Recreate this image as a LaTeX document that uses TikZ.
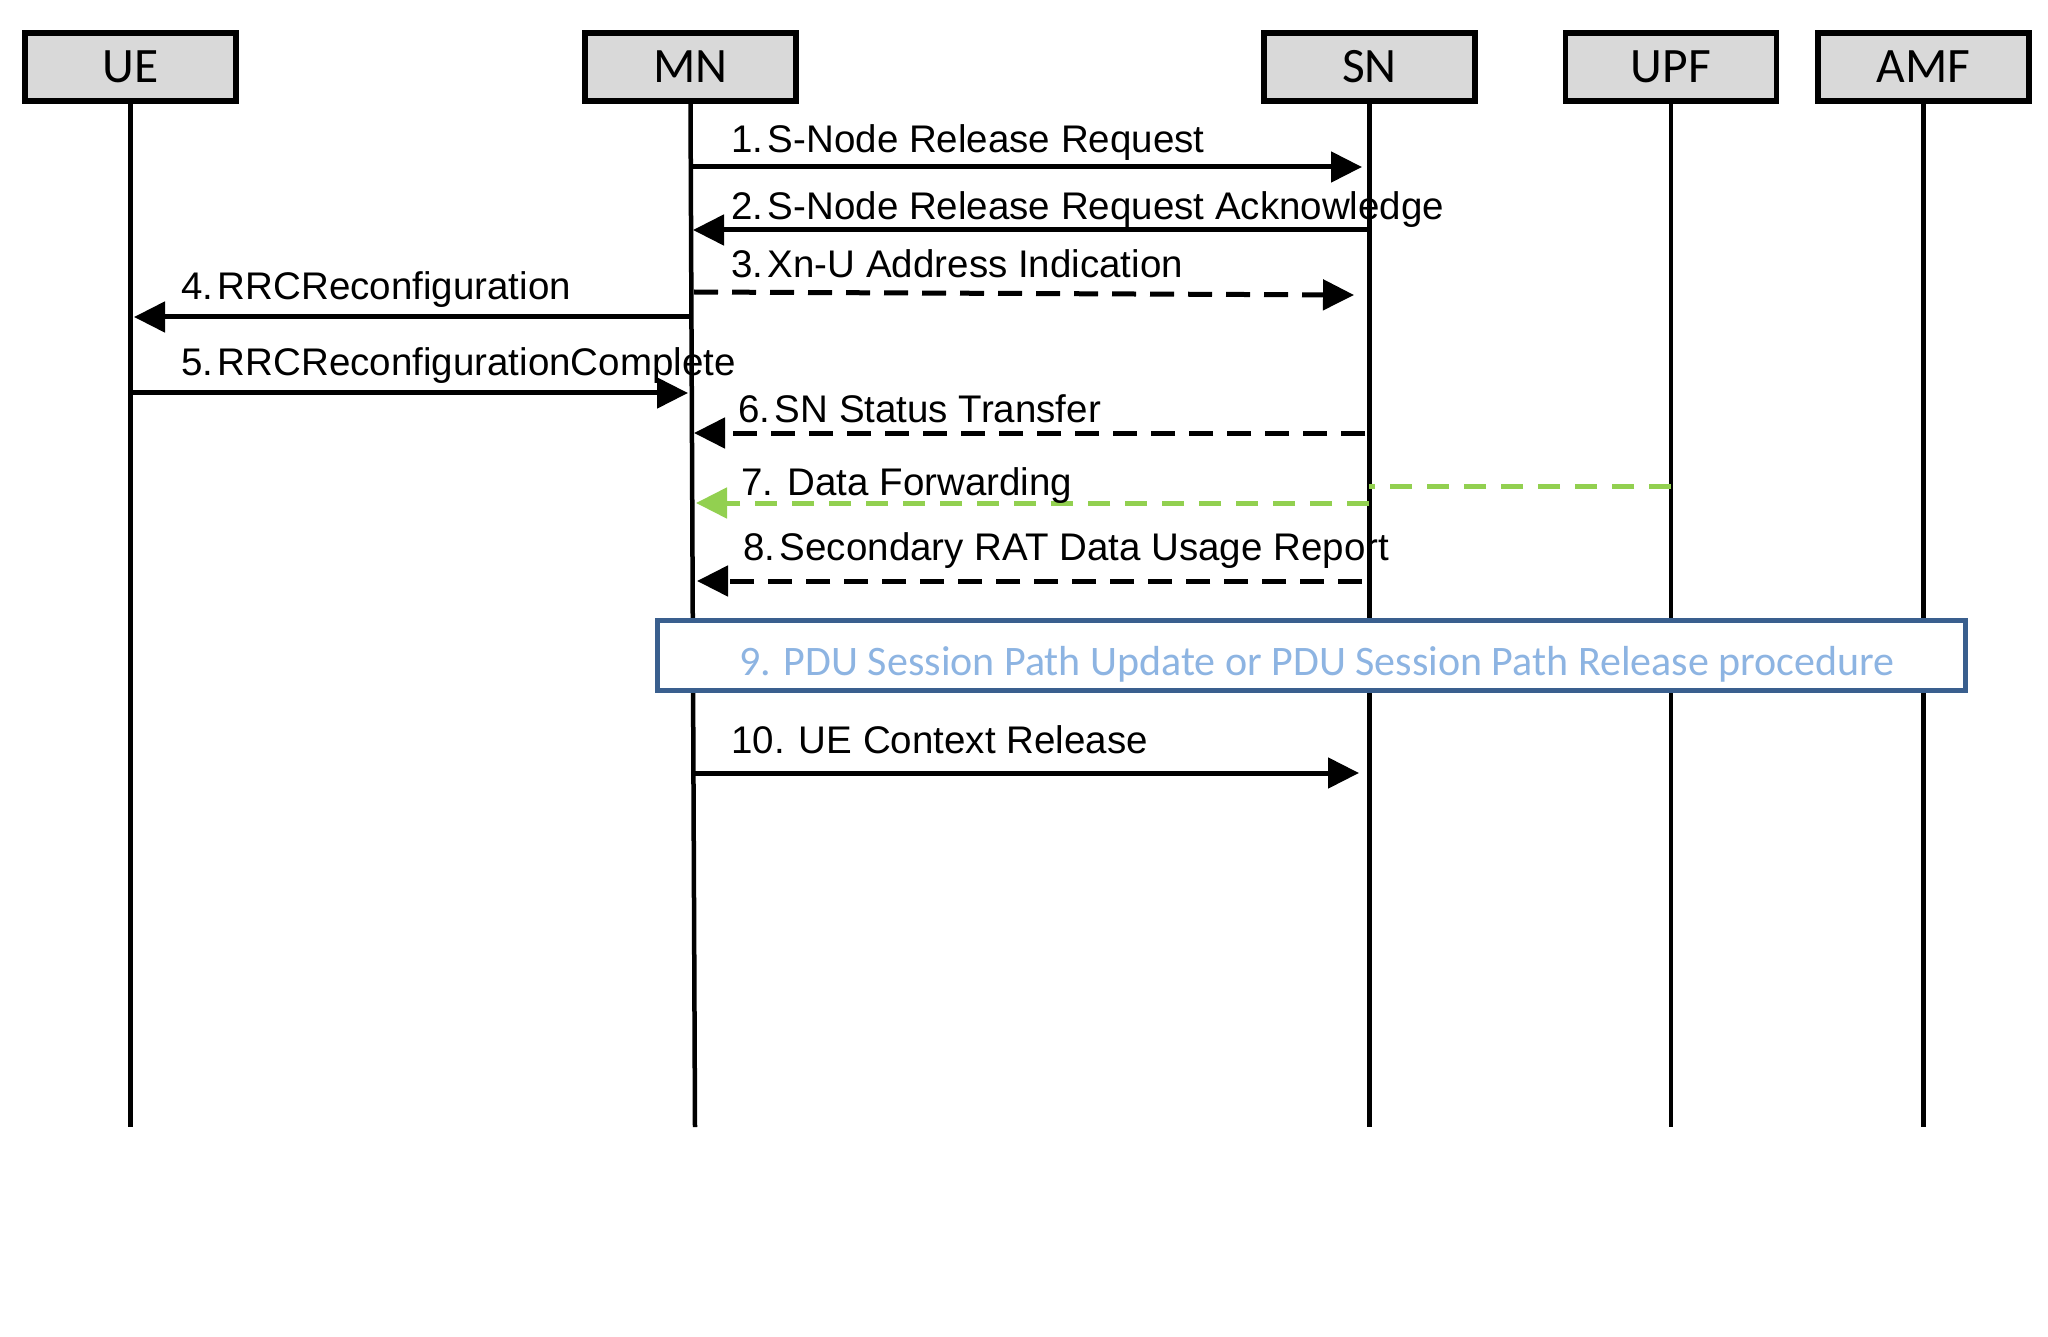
\documentclass[tikz,border=0pt]{standalone}
\usepackage{fontspec}
\setmainfont{Liberation Sans}
\newfontfamily\hdrfont{Carlito}
\usetikzlibrary{arrows.meta}
\definecolor{hdrgray}{HTML}{D9D9D9}
\definecolor{fwdgreen}{HTML}{92D050}
\definecolor{boxblue}{HTML}{3A5F8E}
\definecolor{txtblue}{HTML}{8DB4E2}
\newcommand{\nsp}{\hspace{0.12em}}
\begin{document}
\begin{tikzpicture}[x=1pt,y=-1pt,
  entity/.style={draw=black, line width=5.5pt, fill=hdrgray, minimum width=211pt, minimum height=68pt, inner sep=0pt, font=\hdrfont\fontsize{49.5}{58}\selectfont},
  lifeline/.style={draw=black, line width=4.5pt},
  msg/.style={draw=black, line width=5pt, -{Triangle[length=31pt,width=30pt]}},
  dmsg/.style={msg, dash pattern=on 24pt off 14pt},
  gline/.style={draw=fwdgreen, line width=5pt, dash pattern=on 22pt off 15pt},
  gmsg/.style={gline, -{Triangle[length=31pt,width=30pt]}},
  lbl/.style={anchor=base west, inner sep=0pt, font=\fontsize{38.5}{46}\selectfont},
  procbox/.style={draw=boxblue, line width=5pt, fill=white},
  proctext/.style={anchor=base, inner sep=0pt, text=txtblue, font=\hdrfont\fontsize{42}{50}\selectfont}
]
\useasboundingbox[fill=white] (0,0) rectangle (2048,1337);

% entities
\node[entity] (UE)  at (130.5,67) {UE};
\node[entity] (MN)  at (690.5,67) {MN};
\node[entity] (SN)  at (1369.5,67) {SN};
\node[entity] (UPF) at (1671,67) {UPF};
\node[entity] (AMF) at (1923.5,67) {AMF};

% lifeline ends
\coordinate (UEend)  at (130.5,1127);
\coordinate (MNend)  at (695,1127);
\coordinate (SNend)  at (1369.5,1127);
\coordinate (UPFend) at (1671,1127);
\coordinate (AMFend) at (1923.5,1127);

\draw[lifeline] (UE.south) -- (UEend);
\draw[lifeline] (MN.south) -- (MNend);
\draw[lifeline] (SN.south) -- (SNend);
\draw[lifeline] (UPF.south) -- (UPFend);
\draw[lifeline] (AMF.south) -- (AMFend);

% procedure box
\coordinate (pbA) at (657,620);
\coordinate (pbB) at (1965,690);
\draw[procbox] (pbA) rectangle (pbB);
\node[proctext] (p9) at (1317,675) {9. PDU Session Path Update or PDU Session Path Release procedure};

% message endpoints
\coordinate (m1s) at (691,167);   \coordinate (m1e) at (1362,167);
\coordinate (m2s) at (1369,230);  \coordinate (m2e) at (693,230);
\coordinate (m3s) at (694,292);   \coordinate (m3e) at (1354,295);
\coordinate (m4s) at (691,317);   \coordinate (m4e) at (134,317);
\coordinate (m5s) at (130.5,393); \coordinate (m5e) at (688,393);
\coordinate (m6s) at (1365,433);  \coordinate (m6e) at (694,433);
\coordinate (m7s) at (1671,486);  \coordinate (m7m) at (1369,486);
\coordinate (m7t) at (1369,503);  \coordinate (m7e) at (696,503);
\coordinate (m8s) at (1362,581);  \coordinate (m8e) at (697,581);
\coordinate (m10s) at (693,773);  \coordinate (m10e) at (1359,773);

\draw[msg]  (m1s) -- (m1e);
\draw[msg]  (m2s) -- (m2e);
\draw[dmsg] (m3s) -- (m3e);
\draw[msg]  (m4s) -- (m4e);
\draw[msg]  (m5s) -- (m5e);
\draw[dmsg] (m6s) -- (m6e);
\draw[gline] (m7s) -- (m7m);
\draw[gmsg] (m7t) -- (m7e);
\draw[dmsg] (m8s) -- (m8e);
\draw[msg]  (m10s) -- (m10e);

% labels
\node[lbl] (l1) at (731,153) {1.\nsp S-Node Release Request};
\node[lbl] (l2) at (731,220) {2.\nsp S-Node Release Request Acknowledge};
\node[lbl] (l3) at (731,278) {3.\nsp Xn-U Address Indication};
\node[lbl] (l4) at (181,300) {4.\nsp RRCReconfiguration};
\node[lbl] (l5) at (181,376) {5.\nsp RRCReconfigurationComplete};
\node[lbl] (l6) at (738,422) {6.\nsp SN Status Transfer};
\node[lbl] (l7) at (741,495) {7. Data Forwarding};
\node[lbl] (l8) at (743,560) {8.\nsp Secondary RAT Data Usage Report};
\node[lbl] (l10) at (731,753) {10. UE Context Release};
\end{tikzpicture}
\end{document}
